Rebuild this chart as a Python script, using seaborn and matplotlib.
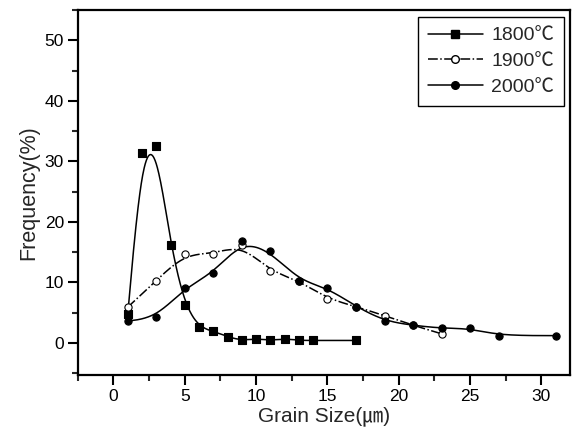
import numpy as np
import pandas as pd
import seaborn as sns
import matplotlib
matplotlib.use('Agg')
import matplotlib.pyplot as plt
from matplotlib.lines import Line2D
from matplotlib.ticker import MultipleLocator

# values
size_1800 = [1, 2, 3, 4, 5, 6, 7, 8, 9, 10, 11, 12, 13, 14, 17]
freq_1800 = [4.7, 31.3, 32.5, 16.2, 6.2, 2.6, 1.9, 1.0, 0.4, 0.7, 0.4, 0.7, 0.4, 0.4, 0.4]

size_1900 = [1, 3, 5, 7, 9, 11, 13, 15, 17, 19, 21, 23]
freq_1900 = [5.9, 10.3, 14.7, 14.7, 16.2, 11.8, 10.3, 7.3, 6.0, 4.5, 2.9, 1.5]

size_2000 = [1, 3, 5, 7, 9, 11, 13, 15, 17, 19, 21, 23, 25, 27, 31]
freq_2000 = [3.6, 4.2, 9.1, 11.5, 16.9, 15.1, 10.3, 9.1, 6.0, 3.6, 2.9, 2.4, 2.4, 1.2, 1.2]

labels = ['1800\u2103', '1900\u2103', '2000\u2103']


def bspline(x, y, n=40):
    # clamped uniform cubic B-spline (same kind of smoothing Origin draws)
    P = np.column_stack([x, y]).astype(float)
    P = np.vstack([P[:1], P[:1], P, P[-1:], P[-1:]])
    M = np.array([[-1, 3, -3, 1], [3, -6, 3, 0], [-3, 0, 3, 0], [1, 4, 1, 0]]) / 6.0
    t = np.linspace(0, 1, n)
    T = np.column_stack([t**3, t**2, t, np.ones_like(t)])
    pts = np.vstack([T @ M @ P[i:i + 4] for i in range(len(P) - 3)])
    return pd.DataFrame({'x': pts[:, 0], 'y': pts[:, 1]})


sns.set_style('ticks')
plt.rcParams['font.family'] = ['Liberation Sans', 'Noto Sans CJK KR', 'DejaVu Sans']

fig, ax = plt.subplots(figsize=(5.72, 4.37), dpi=100)
fig.subplots_adjust(left=0.136, right=0.9965, top=0.977, bottom=0.142)

series = [(size_1800, freq_1800, '-', 's', 'black'),
          (size_1900, freq_1900, '-.', 'o', 'white'),
          (size_2000, freq_2000, '-', 'o', 'black')]

for xs, ys, ls, mk, fc in series:
    curve = bspline(xs, ys)
    sns.lineplot(data=curve, x='x', y='y', sort=False, estimator=None,
                 color='black', lw=1.1, linestyle=ls, ax=ax)
    sns.scatterplot(x=xs, y=ys, marker=mk, s=27, facecolor=fc,
                    edgecolor='black', linewidth=0.8, zorder=3, ax=ax)

ax.set_xlim(-2.5, 32)
ax.set_ylim(-5.3, 55)
ax.xaxis.set_major_locator(MultipleLocator(5))
ax.xaxis.set_minor_locator(MultipleLocator(2.5))
ax.yaxis.set_major_locator(MultipleLocator(10))
ax.yaxis.set_minor_locator(MultipleLocator(5))
ax.tick_params(which='major', direction='out', length=7, width=1.5, labelsize=12.5,
               pad=3, colors='black', top=False, right=False)
ax.tick_params(which='minor', direction='out', length=4, width=1.5,
               top=False, right=False)
for sp in ax.spines.values():
    sp.set_linewidth(1.6)
    sp.set_color('black')

ax.set_xlabel('Grain Size(\u339b)', fontsize=15, labelpad=2)
ax.set_ylabel('Frequency(%)', fontsize=15.5, labelpad=4)

handles = [Line2D([], [], color='black', lw=1.1, linestyle=ls, marker=mk,
                  markerfacecolor=fc, markeredgecolor='black', markersize=5.5)
           for _, _, ls, mk, fc in series]
leg = ax.legend(handles, labels, loc='upper right', fontsize=14, handlelength=2.8,
                frameon=True, fancybox=False, framealpha=1, edgecolor='black',
                borderpad=0.5, labelspacing=0.42, handletextpad=0.45,
                borderaxespad=0, bbox_to_anchor=(0.988, 0.981))
leg.get_frame().set_linewidth(1.0)

plt.savefig('out.png', dpi=100)
plt.close()
